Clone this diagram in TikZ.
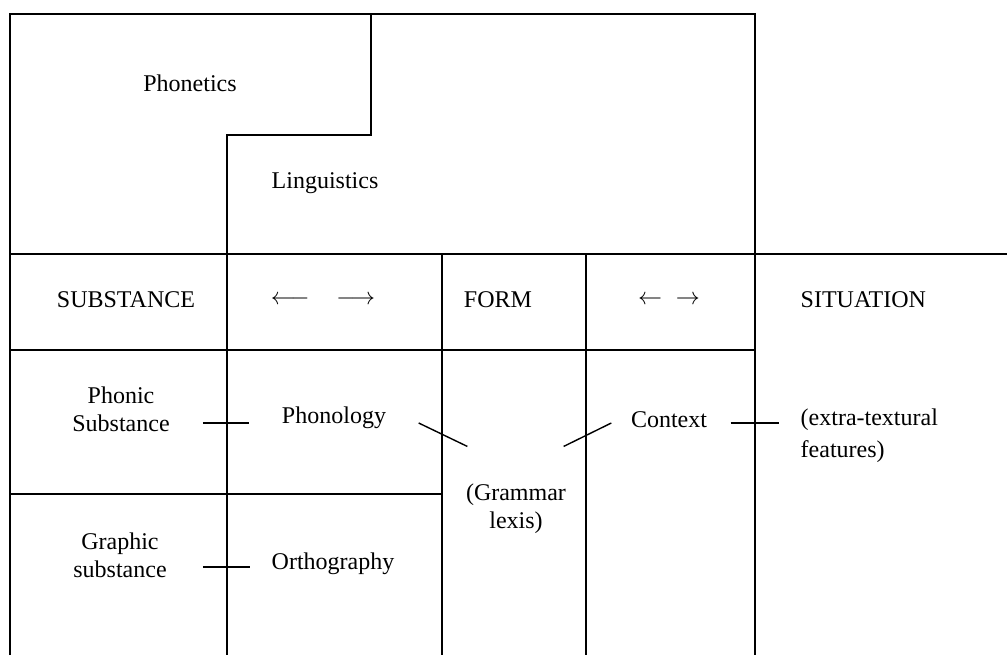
\documentclass[tikz,border=0pt]{standalone}
\usepackage{fontspec}
\setmainfont{Liberation Serif}
\begin{document}
\begin{tikzpicture}[x=0.5pt,y=-0.5pt,line width=0.7pt,
    lbl/.style={font=\fontsize{12}{14}\selectfont,inner sep=0pt,align=center}]
    \useasboundingbox (0,0) rectangle (1007,655);

    % frame and cells
    \draw (10,655) -- (10,14) -- (755,14) -- (755,655);
    \draw (371,14) -- (371,135) -- (227,135) -- (227,655);
    \draw (10,254) -- (1007,254);
    \draw (10,350) -- (755,350);
    \draw (10,494) -- (442,494);
    \foreach \x in {442,586}
      \draw (\x,254) -- (\x,655);

    \node[lbl] (phonetics) at (190,83) {Phonetics};
    \node[lbl] (linguistics) at (325,183) {Linguistics};

    \node[lbl] (substance) at (126,300) {SUBSTANCE};
    \node[lbl] (arrowsl) at (323,300) {$\longleftarrow$\hspace{13.5pt}$\longrightarrow$};
    \node[lbl] (form) at (498,300) {FORM};
    \node[lbl,font=\large] (arrowsr) at (669,300) {$\leftarrow$\hspace{7pt}$\rightarrow$};
    \node[lbl,anchor=west] (situation) at (800,300) {SITUATION};

    \node[lbl] (phonic) at (121,409) {Phonic\\Substance};
    \node[lbl] (phonology) at (334,418) {Phonology};
    \node[lbl] (grammar) at (516,509) {(Grammar\\lexis)};
    \node[lbl] (context) at (669,420) {Context};
    \node[lbl,anchor=west,align=left] (extra) at (800,436) {(extra-textural\\[2pt]features)};
    \node[lbl] (graphic) at (120,555) {Graphic\\substance};
    \node[lbl] (orthography) at (333,564) {Orthography};

    \draw ([shift={(16.25pt,-7pt)}]phonic.east) -- ([shift={(-16pt,-2.5pt)}]phonology.west);
    \draw ([shift={(17.75pt,-6pt)}]graphic.east) -- ([shift={(-10.5pt,-1.5pt)}]orthography.west);
    \draw ([shift={(16pt,-2.5pt)}]phonology.east) -- ([shift={(1pt,18.5pt)}]grammar.north west);
    \draw ([shift={(-1.5pt,18.5pt)}]grammar.north east) -- ([shift={(-9.5pt,-1.5pt)}]context.west);
    \draw ([shift={(11.5pt,-1.5pt)}]context.east) -- ([shift={(-10.5pt,6.5pt)}]extra.west);
\end{tikzpicture}
\end{document}
